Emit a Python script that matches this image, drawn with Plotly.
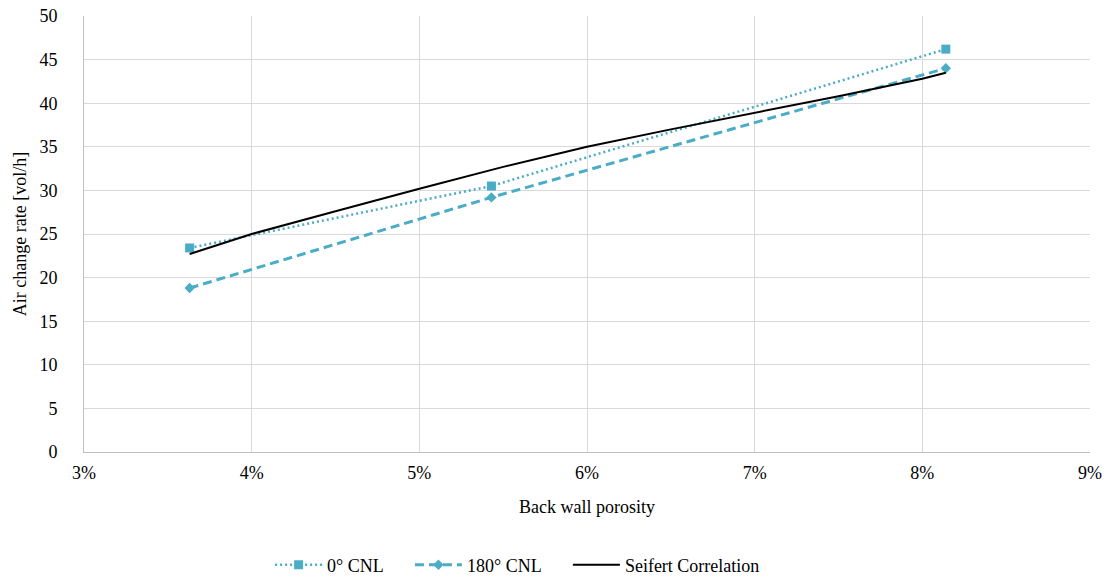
import plotly.graph_objects as go

# porosity [%] and air change rate [vol/h]
porosity = [3.63, 5.43, 8.14]
cnl_0 = [23.4, 30.5, 46.2]
cnl_180 = [18.8, 29.2, 44.0]

seifert_x = [3.63, 4.0, 4.5, 5.0, 5.5, 6.0, 6.5, 7.0, 7.5, 8.0, 8.14]
seifert_y = [22.7, 25.0, 27.6, 30.2, 32.7, 35.0, 37.0, 38.9, 40.8, 42.8, 43.5]

x_ticks = [3, 4, 5, 6, 7, 8, 9]
x_labels = ["3%", "4%", "5%", "6%", "7%", "8%", "9%"]

aqua = "#4BACC6"
serif = "Liberation Serif"
tick_font = dict(family=serif, size=18, color="black")

fig = go.Figure()
fig.add_trace(go.Scatter(x=porosity, y=cnl_0, name="0° CNL", mode="lines+markers",
                         line=dict(color=aqua, width=2.5, dash="2px,3px"),
                         marker=dict(symbol="square", size=9, color=aqua),
                         legend="legend"))
fig.add_trace(go.Scatter(x=porosity, y=cnl_180, name="180° CNL", mode="lines+markers",
                         line=dict(color=aqua, width=3, dash="9px,5px"),
                         marker=dict(symbol="diamond", size=8, color=aqua),
                         legend="legend2"))
fig.add_trace(go.Scatter(x=seifert_x, y=seifert_y, name="Seifert Correlation", mode="lines",
                         line=dict(color="black", width=2),
                         legend="legend3"))


def legend_box(x):
    return dict(xref="paper", yref="container", x=x, xanchor="left",
                y=0.0275, yanchor="middle", itemwidth=47, orientation="h",
                font=dict(family=serif, size=18, color="black"))


fig.update_layout(
    width=1110, height=581,
    margin=dict(l=84, r=20, t=16, b=129),
    paper_bgcolor="white", plot_bgcolor="white",
    font=dict(family=serif, size=18, color="black"),
    showlegend=True,
    legend=legend_box(0.185),
    legend2=legend_box(0.324),
    legend3=legend_box(0.481),
    xaxis=dict(range=[3, 9], tickvals=x_ticks, ticktext=x_labels, tickfont=tick_font,
               showgrid=True, gridcolor="#d9d9d9", gridwidth=1,
               showline=True, linecolor="#bfbfbf", linewidth=1,
               zeroline=False, ticks="outside", ticklen=4, tickcolor="rgba(0,0,0,0)",
               automargin=False,
               title=dict(text="Back wall porosity", font=dict(family=serif, size=18), standoff=18)),
    yaxis=dict(range=[0, 50], dtick=5, tickfont=tick_font,
               showgrid=True, gridcolor="#d9d9d9", gridwidth=1,
               showline=True, linecolor="#bfbfbf", linewidth=1,
               zeroline=False, ticks="outside", ticklen=22, tickcolor="rgba(0,0,0,0)",
               automargin=False,
               title=dict(text="Air change rate [vol/h]", font=dict(family=serif, size=18), standoff=8)),
)

# page body has a default margin; remove it so the figure sits at the window corner
fig.write_html("out.html", config={"displayModeBar": False},
               post_script="document.body.style.margin='0';")
